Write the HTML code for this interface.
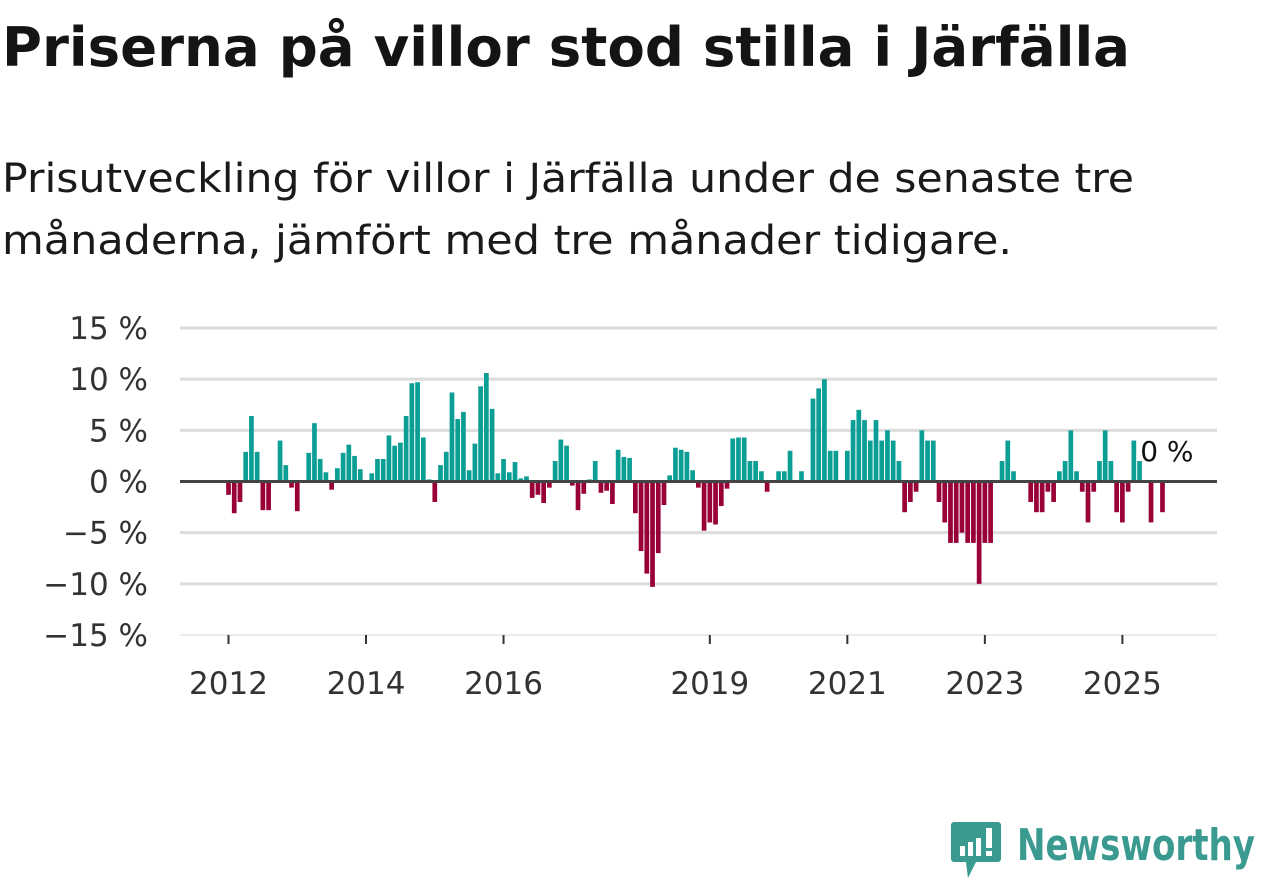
<!DOCTYPE html>
<html><head><meta charset="utf-8">
<style>
body{margin:0;width:1262px;height:879px;background:#fff;overflow:hidden;font-family:"DejaVu Sans","Liberation Sans",sans-serif;color:#111;}
svg{position:absolute;left:0;top:0;}
</style></head><body>
<svg width="1262" height="879">
  <text x="2" y="66" font-size="54" font-weight="bold" fill="#141414" font-family="DejaVu Sans, Liberation Sans, sans-serif" textLength="1128" lengthAdjust="spacingAndGlyphs">Priserna på villor stod stilla i Järfälla</text>
  <text x="2" y="192" font-size="40" fill="#1a1a1a" font-family="DejaVu Sans, Liberation Sans, sans-serif" textLength="1132" lengthAdjust="spacingAndGlyphs">Prisutveckling för villor i Järfälla under de senaste tre</text>
  <text x="2" y="254" font-size="40" fill="#1a1a1a" font-family="DejaVu Sans, Liberation Sans, sans-serif" textLength="1010" lengthAdjust="spacingAndGlyphs">månaderna, jämfört med tre månader tidigare.</text>
</svg>
<svg id="chart" width="1262" height="879"></svg>
<script>
const yTicks=[15,10,5,0,-5,-10,-15];
const yTickLabels=["15 %","10 %","5 %","0 %","\u22125 %","\u221210 %","\u221215 %"];
const yearLabels=["2012","2014","2016","2019","2021","2023","2025"];
const yearMonthIndex=[0,24,48,84,108,132,156];
const values=[-1.3,-3.1,-2,2.9,6.4,2.9,-2.8,-2.8,0,4.0,1.6,-0.6,-2.9,0,2.8,5.7,2.2,0.9,-0.8,1.3,2.8,3.6,2.5,1.2,
0,0.8,2.2,2.2,4.5,3.5,3.8,6.4,9.6,9.7,4.3,0.2,-2.0,1.6,2.9,8.7,6.1,6.8,1.1,3.7,9.3,10.6,7.1,0.8,
2.2,0.9,1.9,0.3,0.5,-1.6,-1.3,-2.1,-0.6,2.0,4.1,3.5,-0.4,-2.8,-1.2,0.2,2.0,-1.1,-0.9,-2.2,3.1,2.4,2.3,-3.1,
-6.8,-9.0,-10.3,-7.0,-2.3,0.6,3.3,3.1,2.9,1.1,-0.6,-4.8,-4.0,-4.2,-2.4,-0.7,4.2,4.3,4.3,2.0,2.0,1.0,-1.0,0,
1.0,1.0,3.0,0,1.0,0,8.1,9.1,10.0,3.0,3.0,0,3.0,6.0,7.0,6.0,4.0,6.0,4.0,5.0,4.0,2.0,-3.0,-2.0,
-1.0,5.0,4.0,4.0,-2.0,-4.0,-6.0,-6.0,-5.0,-6.0,-6.0,-10.0,-6.0,-6.0,0,2.0,4.0,1.0,0,0,-2.0,-3.0,-3.0,-1.0,
-2.0,1.0,2.0,5.0,1.0,-1.0,-4.0,-1.0,2.0,5.0,2.0,-3.0,-4.0,-1.0,4.0,2.0,0,-4.0,0,-3.0,0];
const lastLabel="0 %";

const svg=document.getElementById('chart');
const NS='http://www.w3.org/2000/svg';
const X0=180,X1=1217,Y_TOP=328,Y_BOT=635;
const yScale=v=>Y_TOP+(15-v)/30*(Y_BOT-Y_TOP);
const xScale=i=>228.5+i*5.73;
const BW=4.7;
function mk(tag,attrs){const e=document.createElementNS(NS,tag);for(const k in attrs)e.setAttribute(k,attrs[k]);svg.appendChild(e);return e;}
yTicks.forEach((t,k)=>{
  if(t!==0){const g=mk('line',{x1:X0,x2:X1,y1:yScale(t),y2:yScale(t),stroke:t===-15?'#e6e6e6':'#dcdcdc','stroke-width':t===-15?1.5:3});
  
  }
  const l=mk('text',{x:148,y:yScale(t)+11,'text-anchor':'end','font-size':31,fill:'#333','font-family':'DejaVu Sans, Liberation Sans, sans-serif'});
  l.textContent=yTickLabels[k];
  
  
});
values.forEach((v,i)=>{
  if(v===0)return;
  const y0=yScale(0),y1=yScale(v);
  const r=mk('rect',{x:xScale(i)-BW/2,y:Math.min(y0,y1),width:BW,height:Math.abs(y1-y0),fill:v>0?'#0a9e94':'#990038'});
  
  
});
const z=mk('line',{x1:X0,x2:X1,y1:yScale(0),y2:yScale(0),stroke:'#444','stroke-width':3});


yearLabels.forEach((lab,k)=>{
  const x=xScale(yearMonthIndex[k]);
  const t=mk('line',{x1:x,x2:x,y1:Y_BOT,y2:Y_BOT+9,stroke:'#333','stroke-width':2});
  
  
  const l=mk('text',{x:x,y:Y_BOT+59,'text-anchor':'middle','font-size':31,fill:'#333','font-family':'DejaVu Sans, Liberation Sans, sans-serif'});
  l.textContent=lab;
  
  
});
const ll=mk('text',{x:xScale(values.length-1)-28,y:461,'font-size':28,fill:'#111','font-family':'DejaVu Sans, Liberation Sans, sans-serif'});
ll.textContent=lastLabel;


</script>
<svg width="1262" height="879" style="position:absolute;left:0;top:0">
  <path d="M954,822 h44 a3,3 0 0 1 3,3 v34 a3,3 0 0 1 -3,3 h-22 l-8,16 l-2,-16 h-12 a3,3 0 0 1 -3,-3 v-34 a3,3 0 0 1 3,-3z" fill="#3a9a8f"/>
  <rect x="960" y="846" width="5" height="10" fill="#fff"/><rect x="968" y="842" width="5" height="14" fill="#fff"/><rect x="976" y="838" width="5" height="18" fill="#fff"/><rect x="986" y="828" width="6" height="20" fill="#fff"/><rect x="986" y="851" width="6" height="5" fill="#fff"/>
  <text x="1017" y="860" font-size="44" font-weight="bold" fill="#3a9a8f" font-family="DejaVu Sans, Liberation Sans, sans-serif" textLength="238" lengthAdjust="spacingAndGlyphs">Newsworthy</text>
</svg>
</body></html>
